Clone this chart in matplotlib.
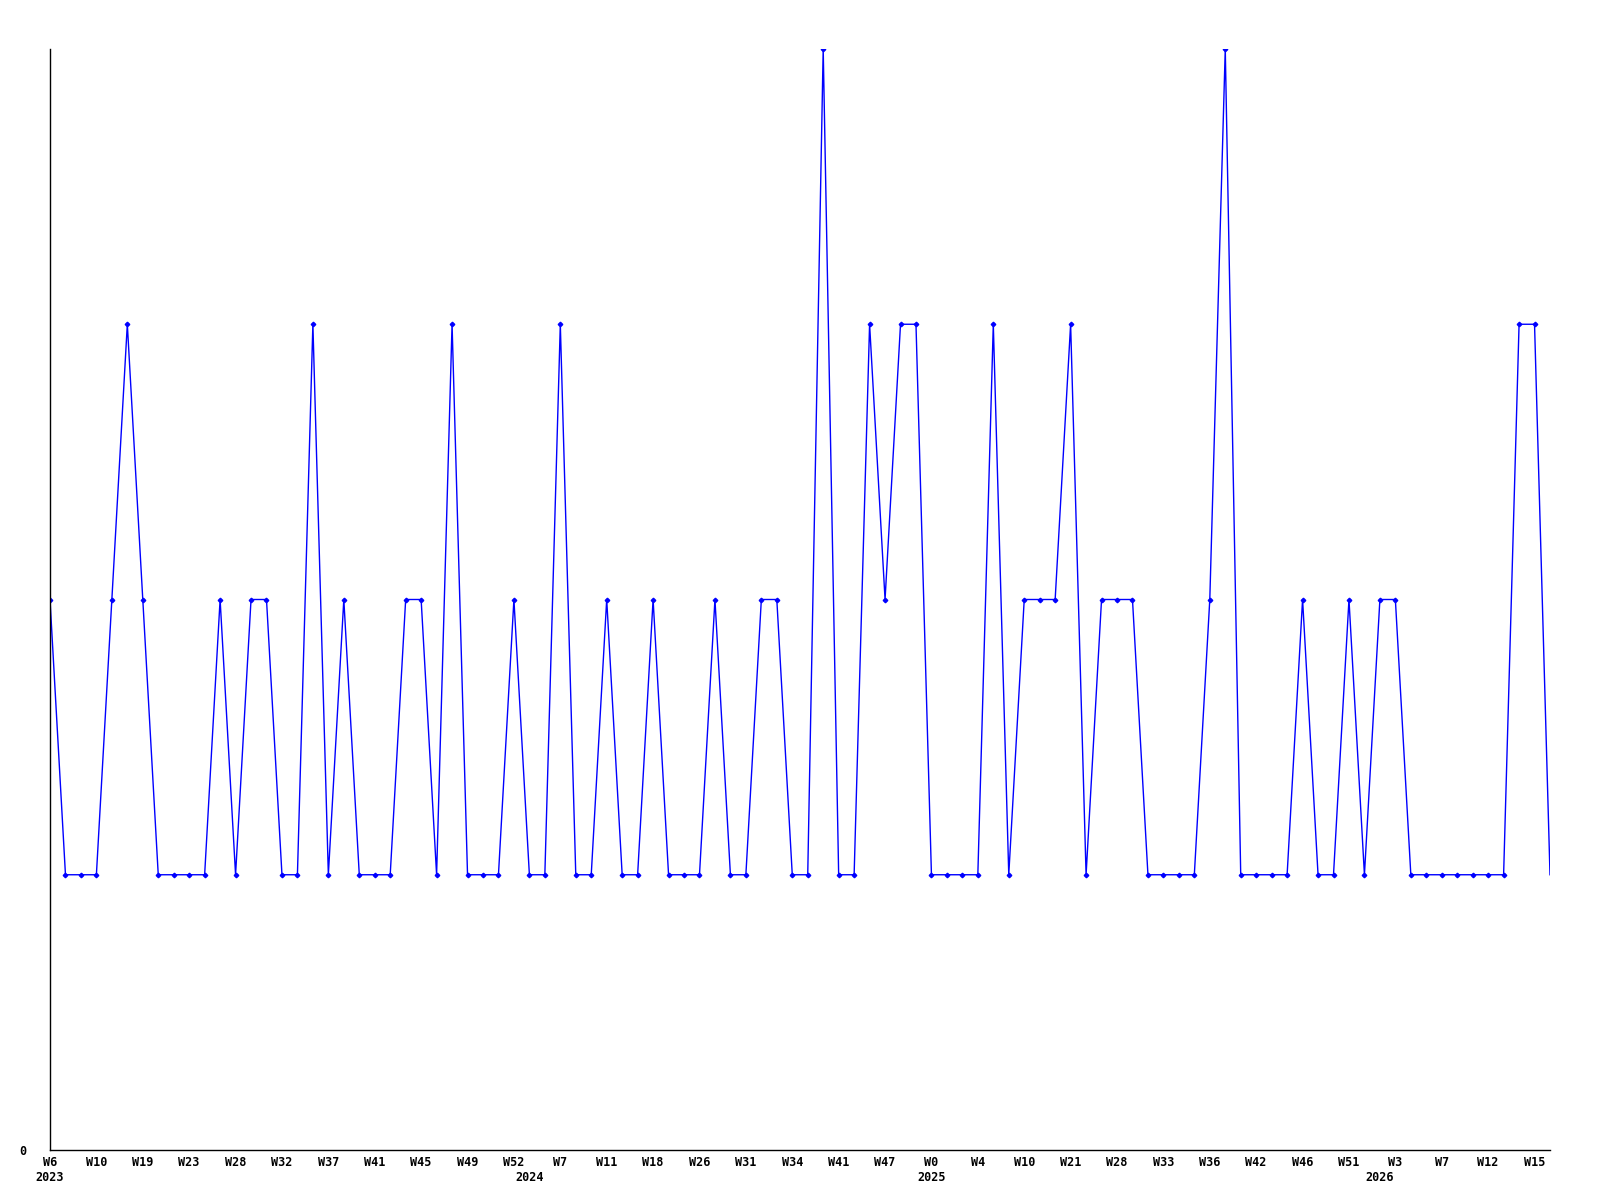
import numpy as np
import matplotlib
matplotlib.use('Agg')
import matplotlib.pyplot as plt

# weekly counts, one point per week that has data
values = [2, 1, 1, 1, 2, 3, 2, 1, 1, 1, 1, 2, 1, 2, 2, 1, 1, 3, 1, 2,
          1, 1, 1, 2, 2, 1, 3, 1, 1, 1, 2, 1, 1, 3, 1, 1, 2, 1, 1, 2,
          1, 1, 1, 2, 1, 1, 2, 2, 1, 1, 4, 1, 1, 3, 2, 3, 3, 1, 1, 1,
          1, 3, 1, 2, 2, 2, 3, 1, 2, 2, 2, 1, 1, 1, 1, 2, 4, 1, 1, 1,
          1, 2, 1, 1, 2, 1, 2, 2, 1, 1, 1, 1, 1, 1, 1, 3, 3, 1]

tick_idx = list(range(0, 97, 3))
tick_labels = ['W6', 'W10', 'W19', 'W23', 'W28', 'W32', 'W37', 'W41', 'W45',
               'W49', 'W52', 'W7', 'W11', 'W18', 'W26', 'W31', 'W34', 'W41',
               'W47', 'W0', 'W4', 'W10', 'W21', 'W28', 'W33', 'W36', 'W42',
               'W46', 'W51', 'W3', 'W7', 'W12', 'W15']

year_idx = [0, 31, 57, 86]
year_labels = ['2023', '2024', '2025', '2026']

font = dict(family='DejaVu Sans Mono', fontweight='bold', fontsize=8.5)

fig = plt.figure(figsize=(16, 12), dpi=100)
ax = fig.add_axes([50 / 1600, 1 - 1150 / 1200, 1500 / 1600, (1150 - 49) / 1200])

x = np.arange(len(values))
ax.plot(x, values, color='#0000ff', lw=1)
# last (current) week has no marker
ax.plot(x[:-1], values[:-1], ls='none', marker='D', ms=2.3, color='#0000ff')

ax.set_xlim(0, len(values) - 1)
ax.set_ylim(0, 4)

for s in ['top', 'right']:
    ax.spines[s].set_visible(False)
for s in ['left', 'bottom']:
    ax.spines[s].set_linewidth(1)
    ax.spines[s].set_color('black')

ax.set_yticks([0])
ax.set_yticklabels(['0'], **font)
ax.tick_params(axis='y', length=0, pad=17)

ax.set_xticks(tick_idx)
ax.set_xticklabels(tick_labels, **font)
ax.tick_params(axis='x', length=0, pad=4)

for i, lab in zip(year_idx, year_labels):
    ax.annotate(lab, xy=(i, 0), xycoords=('data', 'axes fraction'),
                xytext=(0, -19.5), textcoords='offset points',
                ha='center', va='center', **font)

fig.savefig('out.png', dpi=100)
